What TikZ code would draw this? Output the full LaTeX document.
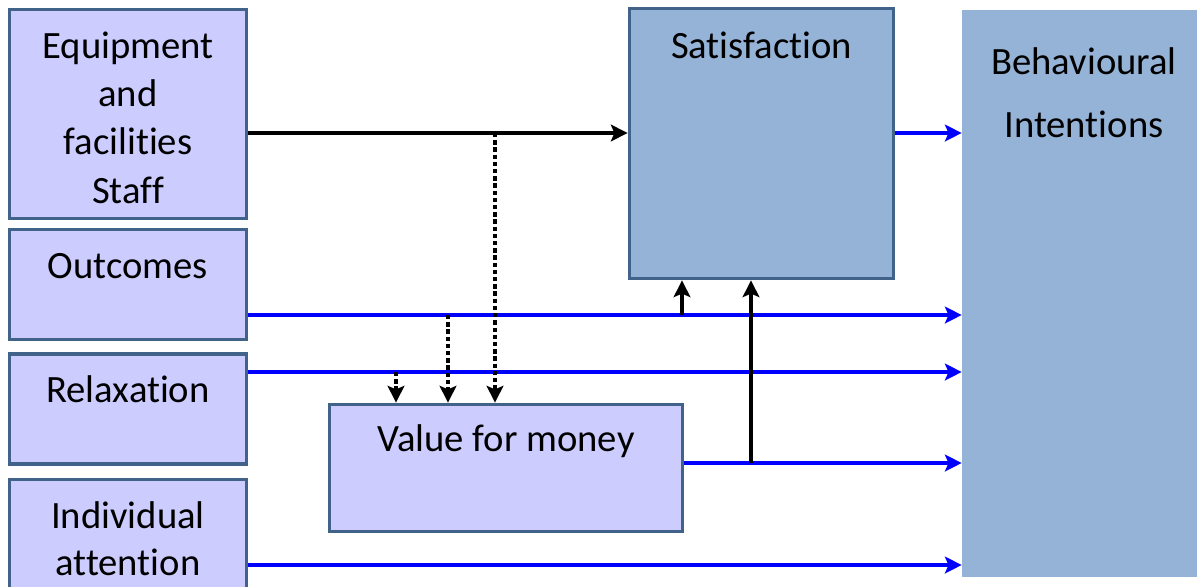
\documentclass[tikz,border=0pt]{standalone}
\usepackage{fontspec}
\setmainfont{Carlito}[Ligatures=NoCommon]
\usetikzlibrary{arrows.meta, positioning, calc}
\definecolor{boxfill}{RGB}{204, 204, 255}
\definecolor{boxedge}{RGB}{65, 99, 138}
\definecolor{steelfill}{RGB}{149, 179, 215}
\definecolor{linkblue}{RGB}{0, 0, 255}

\begin{document}
\begin{tikzpicture}[x=0.02cm, y=-0.02cm,
        >={Stealth[length=9.5pt, width=9.5pt, inset=2pt]},
        every node/.style={font=\fontsize{22}{27.4}\selectfont},
        box/.style={draw=boxedge, line width=2.2pt, fill=boxfill, minimum width=4.74cm},
        boxtext/.style={anchor=base, yshift=-1.01cm, align=center},
        mainlink/.style={line width=2.3pt, ->},
        bluelink/.style={line width=2.2pt, linkblue, ->},
        dotlink/.style={line width=2.5pt, dash pattern=on 2.5pt off 1.6pt, ->}]

    \useasboundingbox (0,0) rectangle (1197,586);
    \clip (0,0) rectangle (1197,586);

    % Drivers on the left (base of a label is its last line)
    \node[box, minimum height=4.18cm, label={[boxtext, yshift=-2.9cm]north:Equipment\\and\\facilities\\Staff}] (equip) at (128,114) {};
    \node[box, minimum height=2.2cm, label={[boxtext]north:Outcomes}] (outc) at (128,284.5) {};
    \node[box, minimum height=2.2cm, label={[boxtext]north:Relaxation}] (relax) at (128,409.3) {};
    \node[box, minimum height=2.3cm, label={[boxtext, yshift=-0.95cm, font=\fontsize{22}{27}\selectfont]north:Individual\\attention}] (indiv) at (128,537) {};

    % Middle and right boxes
    \node[box, minimum width=7.06cm, minimum height=2.54cm, label={[boxtext, yshift=0.04cm]north:Value for money}] (value) at (506,468) {};
    \node[box, fill=steelfill, minimum width=5.28cm, minimum height=5.4cm, label={[boxtext, yshift=-0.03cm]north:Satisfaction}] (sat) at (761.5,143.5) {};
    \node[fill=steelfill, minimum width=4.88cm, minimum height=11.34cm,
          label={[boxtext, yshift=-1.55cm, font=\fontsize{22}{35.7}\selectfont]north:Behavioural\\Intentions}] (behav) at (1084,293.5) {};

    % Rows of the links
    \coordinate (r1) at (0,133);
    \coordinate (r2) at (0,315);
    \coordinate (r3) at (0,372);
    \coordinate (r4) at (0,463);
    \coordinate (r5) at (0,565);

    % Links into satisfaction and intentions
    \draw[mainlink] (equip.east |- r1) -- (sat.west |- r1);
    \draw[bluelink] (sat.east |- r1) -- (behav.west |- r1);
    \draw[bluelink] (outc.east |- r2) -- (behav.west |- r2);
    \draw[bluelink] (relax.east |- r3) -- (behav.west |- r3);
    \draw[bluelink] (value.east |- r4) -- (behav.west |- r4);
    \draw[bluelink] (indiv.east |- r5) -- (behav.west |- r5);

    % Up to satisfaction
    \coordinate (u1) at (682,315);
    \coordinate (u2) at (751,463);
    \draw[mainlink] (u1) -- (sat.south -| u1);
    \draw[mainlink] (u2) -- (sat.south -| u2);

    % Dotted links down to value for money
    \coordinate (d1) at (495,133);
    \coordinate (d2) at (448,315);
    \coordinate (d3) at (396,372);
    \draw[dotlink] (d1) -- (value.north -| d1);
    \draw[dotlink] (d2) -- (value.north -| d2);
    \draw[dotlink] (d3) -- (value.north -| d3);

\end{tikzpicture}
\end{document}
